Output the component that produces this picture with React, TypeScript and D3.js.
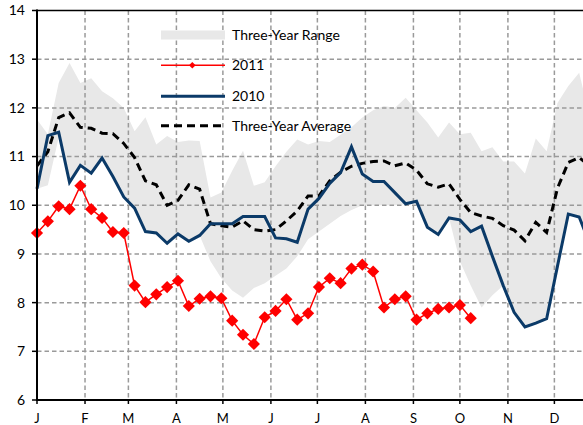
import React from "react";
import * as d3 from "d3";

const monthLabels = ["J", "F", "M", "A", "M", "J", "J", "A", "S", "O", "N", "D"];
const monthStartDays = [0, 31, 59, 90, 120, 151, 181, 212, 243, 273, 304, 334];
const yTicks = [6, 7, 8, 9, 10, 11, 12, 13, 14];

const rangeUpper = [11.76, 11.46, 12.51, 12.92, 12.51, 12.61, 12.34, 12.2, 12.0, 11.52, 11.81, 11.25, 11.42, 11.3, 11.33, 11.32, 10.16, 10.26, 10.71, 11.12, 10.4, 10.47, 10.8, 11.1, 11.35, 11.25, 11.32, 11.3, 11.45, 11.6, 11.8, 11.95, 12.04, 12.0, 12.21, 11.95, 11.7, 11.39, 11.7, 11.46, 11.49, 11.11, 11.19, 10.9, 10.9, 10.65, 11.37, 11.11, 12.1, 12.45, 12.72, 11.8, 11.8];
const rangeLower = [10.34, 10.41, 11.39, 10.47, 10.82, 10.66, 10.97, 10.59, 10.17, 9.94, 9.46, 9.43, 9.22, 9.41, 9.26, 9.38, 8.85, 8.5, 8.25, 8.1, 8.3, 8.4, 8.55, 8.7, 8.95, 9.3, 9.46, 9.62, 9.78, 9.9, 10.0, 10.0, 10.0, 10.0, 10.02, 10.08, 9.55, 9.4, 9.74, 8.85, 8.35, 7.9, 8.15, 8.35, 7.8, 7.5, 7.58, 7.67, 8.75, 9.82, 9.76, 9.2, 9.0];
const series2011 = [9.43, 9.67, 9.98, 9.92, 10.4, 9.92, 9.74, 9.45, 9.43, 8.35, 8.01, 8.17, 8.32, 8.45, 7.93, 8.08, 8.13, 8.09, 7.63, 7.34, 7.15, 7.7, 7.83, 8.07, 7.65, 7.78, 8.32, 8.5, 8.4, 8.7, 8.78, 8.64, 7.9, 8.07, 8.13, 7.65, 7.78, 7.87, 7.9, 7.95, 7.68];
const series2010 = [10.34, 11.43, 11.5, 10.47, 10.82, 10.66, 10.97, 10.59, 10.17, 9.94, 9.46, 9.43, 9.22, 9.41, 9.26, 9.38, 9.62, 9.62, 9.62, 9.77, 9.77, 9.77, 9.33, 9.31, 9.24, 9.92, 10.14, 10.45, 10.67, 11.2, 10.64, 10.49, 10.49, 10.26, 10.03, 10.08, 9.55, 9.4, 9.74, 9.7, 9.46, 9.57, 8.95, 8.35, 7.8, 7.5, 7.58, 7.67, 8.75, 9.82, 9.76, 9.2, 9.0];
const threeYearAvg = [10.81, 11.1, 11.8, 11.9, 11.6, 11.58, 11.48, 11.47, 11.27, 10.98, 10.5, 10.42, 10.0, 10.1, 10.42, 10.33, 9.62, 9.58, 9.55, 9.68, 9.5, 9.47, 9.5, 9.68, 9.88, 10.19, 10.19, 10.5, 10.68, 10.8, 10.86, 10.9, 10.91, 10.81, 10.87, 10.72, 10.44, 10.37, 10.44, 10.12, 9.85, 9.78, 9.73, 9.58, 9.49, 9.27, 9.65, 9.44, 10.35, 10.88, 10.98, 10.8, 10.8];

const W = 583;
const H = 425;
const FONT = "Lato, Carlito, 'Liberation Sans', sans-serif";

export default function App() {
  const x = d3.scaleLinear().domain([0, 365]).range([37, 602.4]);
  const y = d3.scaleLinear().domain([6, 14]).range([400, 10.5]);
  const wx = (i: number) => x(i * 7);

  const area = d3
    .area<number>()
    .x((_, i) => wx(i))
    .y0((_, i) => y(rangeLower[i]))
    .y1((d) => y(d));
  const line = d3
    .line<number>()
    .x((_, i) => wx(i))
    .y((d) => y(d));
  const diamond = d3.symbol().type(d3.symbolSquare).size(74)();
  const smallDiamond = d3.symbol().type(d3.symbolSquare).size(22)();

  const gridColor = "#9a9a9a";
  const navy = "#0b3a68";

  return (
    <svg
      width={W}
      height={H}
      style={{ position: "absolute", left: 0, top: 0, background: "#fff" }}
      fontFamily={FONT}
    >
      <path d={area(rangeUpper) || ""} fill="#e8e8e8" />
      {/* grid */}
      {yTicks.slice(1, -1).map((t) => (
        <line key={"gy" + t} x1={37} x2={W} y1={y(t)} y2={y(t)} stroke={gridColor} strokeWidth={1.5} strokeDasharray="4.5,3" />
      ))}
      {monthStartDays.slice(1).map((d) => (
        <line key={"gx" + d} x1={x(d)} x2={x(d)} y1={y(14)} y2={y(6)} stroke={gridColor} strokeWidth={1.5} strokeDasharray="4.5,3" />
      ))}
      {/* top border */}
      <line x1={37} x2={W} y1={y(14)} y2={y(14)} stroke="#000" strokeWidth={1.5} />
      {/* series */}
      <path d={line(threeYearAvg) || ""} fill="none" stroke="#000" strokeWidth={3} strokeDasharray="8,5" />
      <path d={line(series2010) || ""} fill="none" stroke={navy} strokeWidth={3} strokeLinejoin="miter" />
      <path d={line(series2011) || ""} fill="none" stroke="#ff0000" strokeWidth={1.5} />
      {series2011.map((v, i) => (
        <path key={"m" + i} d={diamond || ""} transform={`translate(${wx(i)},${y(v)}) rotate(45)`} fill="#ff0000" />
      ))}
      {/* axes */}
      <line x1={37} x2={37} y1={y(14) - 1} y2={y(6) + 1} stroke="#000" strokeWidth={2} />
      <line x1={36} x2={W} y1={y(6)} y2={y(6)} stroke="#000" strokeWidth={2} />
      {yTicks.map((t) => (
        <g key={"yt" + t}>
          <line x1={32} x2={37} y1={y(t)} y2={y(t)} stroke="#000" strokeWidth={1.5} />
          <text x={25} y={y(t)} dy="0.35em" textAnchor="end" fontSize={14} fill="#000">
            {t}
          </text>
        </g>
      ))}
      {monthStartDays.map((d, i) => (
        <g key={"xt" + i}>
          <line x1={x(d)} x2={x(d)} y1={y(6)} y2={y(6) + 4} stroke="#000" strokeWidth={1.5} />
          <text x={x(d)} y={418} dy="0.35em" textAnchor="middle" fontSize={13} fill="#000">
            {monthLabels[i]}
          </text>
        </g>
      ))}
      {/* legend */}
      <rect x={161} y={30.5} width={64} height={9} fill="#e8e8e8" />
      <text x={232} y={35} dy="0.35em" fontSize={14} fill="#000">Three-Year Range</text>
      <line x1={161} x2={225} y1={65.3} y2={65.3} stroke="#ff0000" strokeWidth={1.5} />
      <path d={smallDiamond || ""} transform={`translate(192.3,65.3) rotate(45)`} fill="#ff0000" />
      <text x={232} y={65.3} dy="0.35em" fontSize={14} fill="#000">2011</text>
      <line x1={161} x2={225} y1={96.3} y2={96.3} stroke={navy} strokeWidth={3} />
      <text x={232} y={96.3} dy="0.35em" fontSize={14} fill="#000">2010</text>
      <line x1={161} x2={225} y1={125.7} y2={125.7} stroke="#000" strokeWidth={3} strokeDasharray="8,5" />
      <text x={232} y={125.7} dy="0.35em" fontSize={14} fill="#000">Three-Year Average</text>
    </svg>
  );
}
